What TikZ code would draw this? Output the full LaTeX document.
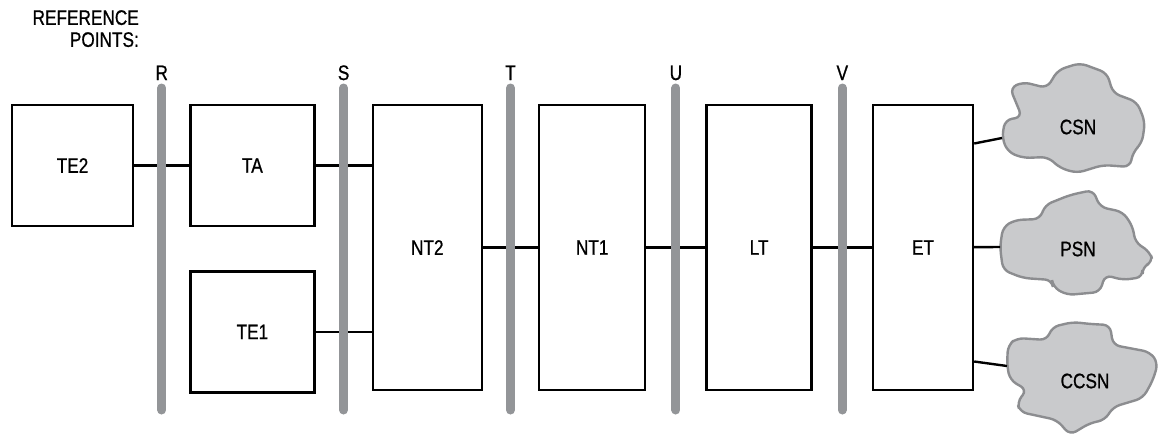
\documentclass[tikz,border=0pt]{standalone}
\usepackage{fontspec}
\setmainfont{Liberation Sans}[FakeStretch=0.82, FakeBold=0.8]
\usetikzlibrary{
  positioning,
  calc
}
\definecolor{bargray}{HTML}{939598}
\definecolor{cloudfill}{HTML}{C9CACC}
\definecolor{cloudedge}{HTML}{8C8D90}
\tikzset{
  every node/.style={font=\fontsize{21}{22}\selectfont},
  unit/.style={draw, line width=2.4pt, minimum height=121pt, inner sep=0pt},
  tallunit/.style={unit, minimum height=285pt},
  link/.style={line width=2.4pt},
  refbar/.style={line width=9pt, line cap=round, draw=bargray},
  netcloud/.style={fill=cloudfill, draw=cloudedge, line width=2.4pt, rounded corners=7pt}
}

\begin{document}
\begin{tikzpicture}[x=1pt, y=-1pt]
    \useasboundingbox (0,0) rectangle (1163,437);
    \node[align=right, anchor=north east, inner sep=0pt] (refpts) at (139,10) {REFERENCE\\POINTS:};
    \node[unit, minimum width=121pt] (te2) at (72.5,165.5) {TE2};
    \node[unit, minimum width=124pt, right=55pt of te2] (ta) {TA};
    \node[unit, minimum width=124pt, below=43pt of ta] (te1) {TE1};
    \node[tallunit, minimum width=109pt, right=56pt of ta.north east, anchor=north west] (nt2) {NT2};
    \node[tallunit, minimum width=106pt, right=55pt of nt2] (nt1) {NT1};
    \node[tallunit, minimum width=105pt, right=59pt of nt1] (lt) {LT};
    \node[tallunit, minimum width=100pt, right=59pt of lt] (et) {ET};
    \draw[netcloud] (1002,138) -- (1005,120) -- (1022,117) -- (1010,88) -- (1023,82) -- (1047,88) -- (1058,70) -- (1080,63) -- (1107,73) -- (1113,93) -- (1137,102) -- (1145,122) -- (1142,143) -- (1133,152) -- (1130,167) -- (1103,165) -- (1077,173) -- (1060,168) -- (1048,157) -- (1023,158) -- (1008,152) -- cycle;
    \draw[netcloud] (1000,247) -- (1003,227) -- (1015,220) -- (1040,219) -- (1045,205) -- (1070,195) -- (1093,190) -- (1100,207) -- (1123,212) -- (1133,227) -- (1135,242) -- (1150,252) -- (1153,262) -- (1142,267) -- (1143,277) -- (1123,280) -- (1105,275) -- (1100,292) -- (1067,295) -- (1053,287) -- (1052,280) -- (1023,278) -- (1003,270) -- cycle;
    \draw[netcloud] (1052,327) -- (1073,322) -- (1090,324) -- (1110,325) -- (1113,345) -- (1150,352) -- (1158,363) -- (1153,380) -- (1143,398) -- (1113,407) -- (1105,420) -- (1090,423) -- (1070,435) -- (1057,420) -- (1020,412) -- (1017,402) -- (1027,390) -- (1010,380) -- (1007,365) -- (1008,345) -- (1017,338) -- (1047,340) -- cycle;
    \node (csn) at (1078,127) {CSN};
    \node (psn) at (1078,249) {PSN};
    \node (ccsn) at (1085,381) {CCSN};
    \coordinate (csnport) at (1002,138);
    \coordinate (psnport) at (1000,247);
    \coordinate (ccsnport) at (1007,366);
    \draw[link] (te2) -- (ta);
    \draw[link] (ta.east) -- (ta.east -| nt2.west);
    \draw[link] (te1.east) -- (te1.east -| nt2.west);
    \draw[link] (nt2) -- (nt1);
    \draw[link] (nt1) -- (lt);
    \draw[link] (lt) -- (et);
    \draw[link] ([yshift=104pt]et.east) -- (csnport);
    \draw[link] (et) -- (psnport);
    \draw[link] ([yshift=-114pt]et.east) -- (ccsnport);
    \foreach \a/\b/\l in {te2/ta/R, ta/nt2/S, nt2/nt1/T, nt1/lt/U, lt/et/V} {
      \coordinate (bar\l) at ($(\a.east)!0.5!(\b.west)$);
      \draw[refbar] (bar\l |- 0,88) -- (bar\l |- 0,410);
      \node[anchor=base] (lbl\l) at (bar\l |- 0,80) {\l};
    }
\end{tikzpicture}
\end{document}
